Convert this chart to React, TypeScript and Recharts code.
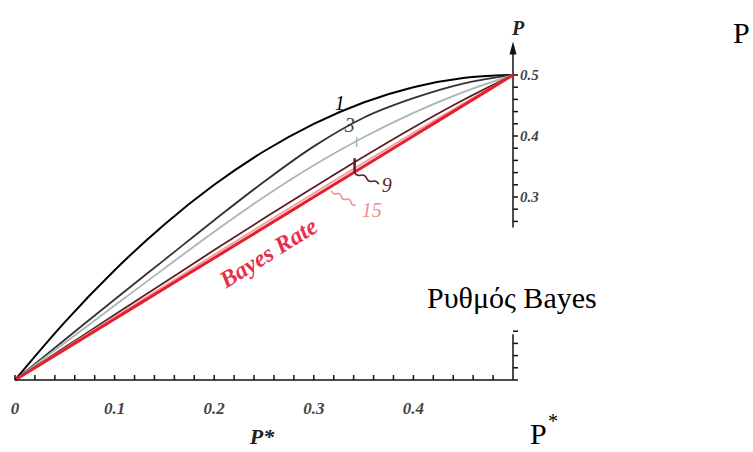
import { LineChart, Line, XAxis, YAxis, ReferenceLine, ReferenceDot } from 'recharts'

// P* values along the horizontal axis
const pStar = [0, 0.05, 0.1, 0.15, 0.2, 0.25, 0.3, 0.35, 0.4, 0.45, 0.5]
// error-rate bounds, one list per k
const k1 = [0, 0.095, 0.18, 0.255, 0.32, 0.375, 0.42, 0.455, 0.48, 0.495, 0.5]
const k3 = [0, 0.066, 0.132, 0.197, 0.262, 0.325, 0.383, 0.43, 0.462, 0.486, 0.5]
const k5 = [0, 0.061, 0.122, 0.183, 0.243, 0.3, 0.352, 0.398, 0.438, 0.472, 0.5]
const k9 = [0, 0.0535, 0.107, 0.16, 0.213, 0.265, 0.316, 0.366, 0.414, 0.459, 0.5]
const k15 = [0, 0.0515, 0.103, 0.154, 0.205, 0.256, 0.306, 0.356, 0.405, 0.453, 0.5]
const bayes = [0, 0.05, 0.1, 0.15, 0.2, 0.25, 0.3, 0.35, 0.4, 0.45, 0.5]

const xTicks = [0, 0.02, 0.04, 0.06, 0.08, 0.1, 0.12, 0.14, 0.16, 0.18, 0.2, 0.22, 0.24, 0.26, 0.28, 0.3, 0.32, 0.34, 0.36, 0.38, 0.4, 0.42, 0.44, 0.46, 0.48]
const xTickLabels = ['0', '0.1', '0.2', '0.3', '0.4']
const yTicks = [0, 0.02, 0.04, 0.06, 0.08, 0.26, 0.28, 0.3, 0.32, 0.34, 0.36, 0.38, 0.4, 0.42, 0.44, 0.46, 0.48, 0.5]
const yTickLabels: Record<string, string> = { '0.3': '0.3', '0.4': '0.4', '0.5': '0.5' }

const data = pStar.map((p, i) => ({
	p,
	k1: k1[i],
	k3: k3[i],
	k5: k5[i],
	k9: k9[i],
	k15: k15[i],
	bayes: bayes[i],
}))

const serif = '"Liberation Serif", "Times New Roman", serif'

// wavy leader line between two points
function wave(x1: number, y1: number, x2: number, y2: number, n: number, amp: number) {
	const dx = x2 - x1
	const dy = y2 - y1
	const len = Math.hypot(dx, dy)
	const nx = -dy / len
	const ny = dx / len
	let d = `M${x1},${y1}`
	for (let i = 0; i < n; i++) {
		const t1 = (i + 0.5) / n
		const t2 = (i + 1) / n
		const s = i % 2 === 0 ? amp : -amp
		d += ` Q${x1 + dx * t1 + nx * s},${y1 + dy * t1 + ny * s} ${x1 + dx * t2},${y1 + dy * t2}`
	}
	return d
}

function XTick(props: any) {
	const { x, y, payload } = props
	const v = payload.value
	const i = Math.round(v * 10)
	const major = Math.abs(v * 10 - i) < 1e-6 && i < xTickLabels.length
	return (
		<g>
			<line x1={x} y1={y} x2={x} y2={y - 5} stroke="#111" strokeWidth={1.5} />
			{major && (
				<text x={x} y={y + 34} textAnchor="middle" fill="#444" fontSize={17} fontStyle="italic" fontWeight="bold" fontFamily={serif}>
					{xTickLabels[i]}
				</text>
			)}
		</g>
	)
}

function YTick(props: any) {
	const { x, y, payload } = props
	const label = yTickLabels[String(payload.value)]
	return (
		<g>
			<line x1={x} y1={y} x2={x + 5} y2={y} stroke="#111" strokeWidth={1.5} />
			{label && (
				<text x={x + 7} y={y + 5} textAnchor="start" fill="#444" fontSize={15} fontStyle="italic" fontWeight="bold" fontFamily={serif}>
					{label}
				</text>
			)}
		</g>
	)
}

export default function App() {
	return (
		<div style={{ position: 'relative', width: 753, height: 452, background: '#fff' }}>
			<style>{`body{margin:0}`}</style>
			<LineChart width={753} height={452} data={data} margin={{ top: 14, right: 200, bottom: 42, left: 15 }}>
				<XAxis
					dataKey="p"
					type="number"
					domain={[0, 0.5]}
					ticks={xTicks}
					interval={0}
					tickLine={false}
					tickSize={0}
					tickMargin={0}
					tick={(p: any) => <XTick {...p} />}
					axisLine={{ stroke: '#111', strokeWidth: 1.5 }}
					height={30}
					label={(p: any) => {
						const vb = p.viewBox
						return (
							<text x={vb.x + vb.width / 2 - 2} y={vb.y + 64} textAnchor="middle" fill="#222" fontSize={22} fontStyle="italic" fontWeight="bold" fontFamily={serif}>
								P*
							</text>
						)
					}}
				/>
				<YAxis
					type="number"
					orientation="right"
					domain={[0, 0.6]}
					ticks={yTicks}
					interval={0}
					tickLine={false}
					tickSize={0}
					tickMargin={0}
					tick={(p: any) => <YTick {...p} />}
					axisLine={false}
					width={40}
				/>
				{/* the y axis is broken where the picture was cut */}
				<ReferenceLine segment={[{ x: 0.5, y: 0.25 }, { x: 0.5, y: 0.535 }]} stroke="#111" strokeWidth={1.5} ifOverflow="visible" />
				<ReferenceLine segment={[{ x: 0.5, y: 0 }, { x: 0.5, y: 0.075 }]} stroke="#111" strokeWidth={1.5} ifOverflow="visible" />
				<ReferenceDot
					x={0.5}
					y={0.545}
					ifOverflow="visible"
					shape={(p: any) => (
						<g>
							<path d={`M${p.cx},${p.cy - 6} L${p.cx - 3.5},${p.cy + 7} L${p.cx + 3.5},${p.cy + 7} Z`} fill="#111" />
							<text x={p.cx + 5} y={p.cy - 13} textAnchor="middle" fill="#222" fontSize={20} fontStyle="italic" fontWeight="bold" fontFamily={serif}>
								P
							</text>
						</g>
					)}
				/>

				<Line dataKey="k1" type="monotone" stroke="#000" strokeWidth={2} dot={false} isAnimationActive={false} />
				<Line dataKey="k3" type="monotone" stroke="#333" strokeWidth={1.8} dot={false} isAnimationActive={false} />
				<Line dataKey="k5" type="monotone" stroke="#a9b6b6" strokeWidth={1.8} dot={false} isAnimationActive={false} />
				<Line dataKey="k9" type="monotone" stroke="#5c1f22" strokeWidth={1.8} dot={false} isAnimationActive={false} />
				<Line dataKey="k15" type="monotone" stroke="#f2a0a4" strokeWidth={2} dot={false} isAnimationActive={false} />
				<Line dataKey="bayes" type="monotone" stroke="#e4202c" strokeWidth={3} dot={false} isAnimationActive={false} />

				{/* curve labels */}
				<ReferenceDot
					x={0.326}
					y={0.454}
					shape={(p: any) => (
						<text x={p.cx} y={p.cy + 7} textAnchor="middle" fill="#000" fontSize={20} fontStyle="italic" fontFamily={serif}>
							1
						</text>
					)}
				/>
				<ReferenceDot
					x={0.336}
					y={0.418}
					shape={(p: any) => (
						<text x={p.cx} y={p.cy + 7} textAnchor="middle" fill="#444" fontSize={20} fontStyle="italic" fontFamily={serif}>
							3
						</text>
					)}
				/>
				<ReferenceDot
					x={0.343}
					y={0.39}
					shape={(p: any) => <line x1={p.cx} y1={p.cy - 5} x2={p.cx} y2={p.cy + 5} stroke="#a9b6b6" strokeWidth={1.5} />}
				/>
				<ReferenceDot
					x={0.341}
					y={0.357}
					shape={(p: any) => (
						<g>
							<line x1={p.cx} y1={p.cy - 4} x2={p.cx} y2={p.cy + 10} stroke="#5c1f22" strokeWidth={2.5} />
							<path d={wave(p.cx, p.cy + 10, p.cx + 24, p.cy + 22, 4, 3)} fill="none" stroke="#5c1f22" strokeWidth={1.6} />
							<text x={p.cx + 32} y={p.cy + 30} textAnchor="middle" fill="#5c1f22" fontSize={20} fontStyle="italic" fontFamily={serif}>
								9
							</text>
						</g>
					)}
				/>
				<ReferenceDot
					x={0.318}
					y={0.31}
					shape={(p: any) => (
						<g>
							<path d={wave(p.cx, p.cy, p.cx + 24, p.cy + 14, 5, 3)} fill="none" stroke="#f08a90" strokeWidth={1.5} />
							<text x={p.cx + 40} y={p.cy + 26} textAnchor="middle" fill="#f08a90" fontSize={20} fontStyle="italic" fontFamily={serif}>
								15
							</text>
						</g>
					)}
				/>
				<ReferenceDot
					x={0.255}
					y={0.207}
					shape={(p: any) => (
						<text
							x={p.cx}
							y={p.cy + 7}
							textAnchor="middle"
							fill="#e8304a"
							fontSize={24}
							fontStyle="italic"
							fontWeight="bold"
							fontFamily={serif}
							transform={`rotate(-32 ${p.cx} ${p.cy})`}
						>
							Bayes Rate
						</text>
					)}
				/>
			</LineChart>
			<svg width={753} height={452} style={{ position: 'absolute', left: 0, top: 0, pointerEvents: 'none' }}>
				<text x={733} y={43} fontSize={30} fontFamily={serif} fill="#000">P</text>
				<text x={427} y={308} fontSize={30} fontFamily={serif} fill="#000">Ρυθμός Bayes</text>
				<text x={530} y={444} fontSize={30} fontFamily={serif} fill="#000">P</text>
				<text x={548} y={428} fontSize={20} fontFamily={serif} fill="#000">*</text>
			</svg>
		</div>
	)
}
